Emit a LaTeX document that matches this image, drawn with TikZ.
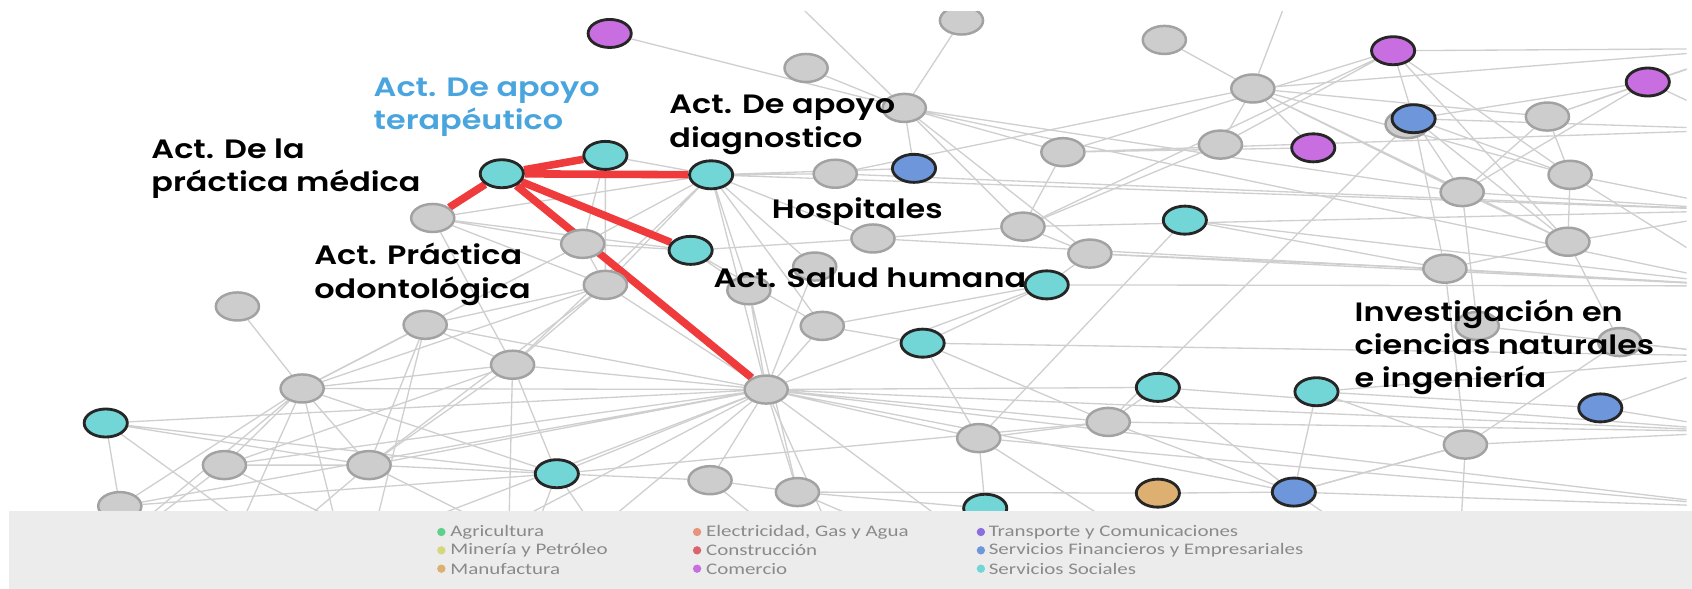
\documentclass[tikz,border=0pt]{standalone}
\usepackage{fontspec}
\usepackage{graphicx}
\usetikzlibrary{shapes.geometric}

\newfontfamily\lblfont{Poppins SemiBold}
\newfontfamily\legfont{Carlito}

\definecolor{nodegray}{HTML}{CDCDCD}
\definecolor{nodeedge}{HTML}{A2A2A2}
\definecolor{linkgray}{HTML}{CFCFCF}
\definecolor{hotred}{HTML}{EF3B3B}
\definecolor{social}{HTML}{73D6D6}
\definecolor{trade}{HTML}{C86EE0}
\definecolor{finance}{HTML}{6E97DB}
\definecolor{manuf}{HTML}{DDAF70}
\definecolor{labelblue}{HTML}{4AA5DF}
\definecolor{bandgray}{HTML}{ECECEC}
\definecolor{legtext}{HTML}{8A8A8A}
\definecolor{agri}{HTML}{5FCF8C}
\definecolor{mining}{HTML}{D6D67C}
\definecolor{power}{HTML}{E8937C}
\definecolor{build}{HTML}{D9646E}
\definecolor{transport}{HTML}{8C6FDD}

\pgfdeclarelayer{edges}
\pgfdeclarelayer{front}
\pgfsetlayers{edges,main,front}

\newcommand{\wide}[1]{\scalebox{1.2}[1]{#1}}
\newcommand{\legwide}[1]{\scalebox{1.3}[1]{#1}}

\begin{document}
\begin{tikzpicture}[x=0.02cm, y=-0.02cm,
  net/.style={ellipse, minimum width=0.8cm, minimum height=0.52cm, inner sep=0pt},
  gnode/.style={net, draw=nodeedge, line width=1.3pt, fill=nodegray},
  cnode/.style={net, draw=black!85, line width=1.5pt, fill=#1},
  link/.style={draw=linkgray, line width=0.7pt},
  hot/.style={draw=hotred, line width=4pt},
  lbl/.style={anchor=north west, align=left, inner sep=0pt, font=\lblfont\fontsize{14}{17.6}\selectfont},
  key/.style={circle, fill=#1, minimum size=0.155cm, inner sep=0pt},
  keytext/.style={anchor=west, inner sep=0pt, text=legtext, font=\legfont\fontsize{8.5}{10}\selectfont}]

\useasboundingbox (0,0) rectangle (1568,545);

% off-canvas ends
\coordinate (eT1) at (715,-20);
\coordinate (eT2) at (1200,-20);
\coordinate (eR1) at (1620,45);
\coordinate (eR2) at (1620,120);
\coordinate (eR3) at (1620,195);
\coordinate (eR4) at (1620,265);
\coordinate (eR5) at (1620,330);
\coordinate (eR6) at (1620,400);
\coordinate (eR7) at (1620,470);
\coordinate (eB1) at (40,560);
\coordinate (eB2) at (190,560);
\coordinate (eB3) at (330,560);
\coordinate (eB4) at (470,560);
\coordinate (eB5) at (600,560);
\coordinate (eB6) at (800,560);
\coordinate (eB7) at (980,560);
\coordinate (eB8) at (1150,560);
\coordinate (eB9) at (1350,560);

\begin{scope}
\clip (0,11) rectangle (1563,545);
% gray nodes
\node[gnode] (g1) at (891,19) {};
\node[gnode] (g2) at (1079,37) {};
\node[gnode] (g3) at (747,63) {};
\node[gnode] (g4) at (838,100) {};
\node[gnode] (g5) at (1161,82) {};
\node[gnode] (g6) at (1131,134) {};
\node[gnode] (g7) at (985,141) {};
\node[gnode] (g8) at (1434,108) {};
\node[gnode] (g9) at (774,161) {};
\node[gnode] (g10) at (1355,178) {};
\node[gnode] (g11) at (1455,162) {};
\node[gnode] (g12) at (401,202) {};
\node[gnode] (g13) at (540,226) {};
\node[gnode] (g14) at (809,221) {};
\node[gnode] (g15) at (948,210) {};
\node[gnode] (g16) at (1010,235) {};
\node[gnode] (g17) at (561,264) {};
\node[gnode] (g18) at (694,269) {};
\node[gnode] (g19) at (755,247) {};
\node[gnode] (g20) at (1339,249) {};
\node[gnode] (g21) at (1453,224) {};
\node[gnode] (g22) at (1369,302) {};
\node[gnode] (g23) at (1501,317) {};
\node[gnode] (g24) at (220,284) {};
\node[gnode] (g25) at (394,301) {};
\node[gnode] (g26) at (475,338) {};
\node[gnode] (g27) at (280,360) {};
\node[gnode] (g28) at (762,302) {};
\node[gnode] (hub) at (710,361) {};
\node[gnode] (g29) at (1027,391) {};
\node[gnode] (g30) at (907,406) {};
\node[gnode] (g31) at (1358,412) {};
\node[gnode] (g32) at (208,431) {};
\node[gnode] (g33) at (342,431) {};
\node[gnode] (g34) at (658,445) {};
\node[gnode] (g35) at (739,456) {};
\node[gnode] (g36) at (111,469) {};
\node[gnode] (gBB) at (1304,115) {};

% coloured nodes
\node[cnode=trade] (pA) at (565,31) {};
\node[cnode=trade] (pB) at (1291,47) {};
\node[cnode=trade] (pC) at (1527,76) {};
\node[cnode=trade] (pD) at (1217,137) {};
\node[cnode=finance] (bA) at (847,156) {};
\node[cnode=finance] (bB) at (1310,110) {};
\node[cnode=finance] (bC) at (1483,378) {};
\node[cnode=finance] (bD) at (1199,456) {};
\node[cnode=manuf] (oA) at (1073,457) {};
\node[cnode=social] (tMed) at (465,161) {};
\node[cnode=social] (tTer) at (561,144) {};
\node[cnode=social] (tDiag) at (659,162) {};
\node[cnode=social] (tSal) at (640,232) {};
\node[cnode=social] (tHum) at (970,264) {};
\node[cnode=social] (tA) at (1098,204) {};
\node[cnode=social] (tB) at (855,318) {};
\node[cnode=social] (tC) at (1073,359) {};
\node[cnode=social] (tD) at (1220,363) {};
\node[cnode=social] (tE) at (98,392) {};
\node[cnode=social] (tF) at (516,439) {};
\node[cnode=social] (tG) at (913,471) {};
\end{scope}

\begin{pgfonlayer}{edges}
\begin{scope}
\clip (0,11) rectangle (1563,545);
% upper part
\draw[link] (pA) -- (g4) (eT1) -- (g4) (g1) -- (g4) (g3) -- (g4) (g4) -- (bA) (g4) -- (g15) (g4) -- (g16) (g4) -- (eR4) (g4) -- (g7) (g4) -- (g10);
\draw[link] (g2) -- (g5) (eT2) -- (g5) (g5) -- (g6) (g5) -- (pD) (g5) -- (g9) (g5) -- (eR1) (g5) -- (g8) (g5) -- (g10) (g5) -- (g21) (g5) -- (g11);
\draw[link] (g6) -- (pB) (pB) -- (bB) (pB) -- (eR1) (pB) -- (g11) (pB) -- (g21) (pB) -- (g15) (pB) -- (g7);
\draw[link] (bB) -- (g20) (bB) -- (g10) (bB) -- (g11) (bB) -- (eR2) (bB) -- (pC) (bB) -- (g21) (bB) -- (g29);
\draw[link] (g8) -- (g11) (g8) -- (g10) (g8) -- (pC) (g8) -- (eR1) (g11) -- (g21) (g11) -- (eR3) (g11) -- (eR4);
\draw[link] (pC) -- (eR1) (pC) -- (eR2) (pC) -- (g10) (g10) -- (g21) (g10) -- (g22) (g10) -- (eR3);
\draw[link] (g20) -- (g31) (g20) -- (g21) (g20) -- (eR4) (g20) -- (tA) (g20) -- (g16) (g21) -- (eR3) (g21) -- (g23);
\draw[link] (g22) -- (eR5) (g23) -- (eR5) (bC) -- (eR5) (bC) -- (eR6) (bC) -- (tD) (g31) -- (eR6) (g31) -- (bD) (g31) -- (g23);
\draw[link] (g7) -- (g15) (g7) -- (eR2) (pD) -- (g7) (g6) -- (g15);
% middle part
\draw[link] (tTer) -- (tDiag) (tTer) -- (g13) (tTer) -- (g17);
\draw[link] (tDiag) -- (g9) (tDiag) -- (bA) (tDiag) -- (g14) (tDiag) -- (g13) (tDiag) -- (g17) (tDiag) -- (g18) (tDiag) -- (g28) (tDiag) -- (hub) (tDiag) -- (g12) (tDiag) -- (eR3) (tDiag) -- (g26) (tDiag) -- (g19);
\draw[link] (g12) -- (g13) (g12) -- (tSal) (g12) -- (g17) (g12) -- (g26);
\draw[link] (g13) -- (g17) (g13) -- (g25) (g13) -- (g27) (g13) -- (tSal) (g17) -- (g26) (g17) -- (g25) (g17) -- (g27) (g17) -- (g33) (g17) -- (hub);
\draw[link] (tSal) -- (g18) (tSal) -- (g14) (tSal) -- (g28) (g9) -- (eR3) (g14) -- (g15) (g14) -- (eR4) (g15) -- (g16) (g15) -- (eR3);
\draw[link] (g16) -- (tHum) (g16) -- (eR4) (tHum) -- (g28) (tHum) -- (hub) (tHum) -- (eR4) (g18) -- (hub) (g18) -- (g35) (g19) -- (hub);
\draw[link] (tA) -- (eR4) (tA) -- (g30) (g28) -- (hub) (g28) -- (tB) (tB) -- (g30) (tB) -- (eR5) (tB) -- (tHum) (tB) -- (g29);
\draw[link] (hub) -- (g27) (hub) -- (g32) (hub) -- (g33) (hub) -- (tE) (hub) -- (g26) (hub) -- (g25) (hub) -- (g36) (hub) -- (eB2) (hub) -- (eB3) (hub) -- (eB4);
\draw[link] (hub) -- (g34) (hub) -- (g35) (hub) -- (tF) (hub) -- (eB6) (hub) -- (eB7) (hub) -- (g30) (hub) -- (tC) (hub) -- (eR6) (hub) -- (g29) (hub) -- (bD) (hub) -- (eR7);
% left part
\draw[link] (g24) -- (g27) (g25) -- (g27) (g25) -- (g33) (g25) -- (g26) (g25) -- (eB3);
\draw[link] (g26) -- (tF) (g26) -- (g33) (g26) -- (g32) (g26) -- (eB4) (g26) -- (g27);
\draw[link] (g27) -- (g32) (g27) -- (g33) (g27) -- (g36) (g27) -- (eB2) (g27) -- (eB3) (g27) -- (tF) (g27) -- (eB1);
\draw[link] (tE) -- (g36) (tE) -- (g33) (tE) -- (eB3) (tE) -- (tF) (g32) -- (g33) (g32) -- (eB1) (g32) -- (eB4);
\draw[link] (g33) -- (tF) (g33) -- (eB2) (g33) -- (eB5) (tF) -- (g34) (tF) -- (eB5) (tF) -- (eB4) (tF) -- (g29);
\draw[link] (g34) -- (g35) (g34) -- (eB6) (g35) -- (eB7) (g35) -- (tG) (g36) -- (eB2) (g36) -- (tF);
% lower right
\draw[link] (tC) -- (g29) (tC) -- (bD) (tC) -- (eR6) (tD) -- (g31) (tD) -- (bD) (tD) -- (eR5);
\draw[link] (g29) -- (bD) (g29) -- (g30) (g29) -- (eR6) (g30) -- (tG) (g30) -- (eR7) (g30) -- (eB8);
\draw[link] (oA) -- (bD) (oA) -- (g35) (bD) -- (g31) (bD) -- (eB9) (bD) -- (eR7) (g31) -- (eB9);
% highlighted links
\draw[hot] (tMed) -- (tTer) (tMed) -- (tDiag) (tMed) -- (tSal) (tMed) -- (hub) (tMed) -- (g12);
\end{scope}
\end{pgfonlayer}

\begin{pgfonlayer}{front}
\node[lbl, text=labelblue] (terapeutico) at (346,72) {\wide{Act. De apoyo}\\\wide{terapéutico}};
\node[lbl] (medica) at (140,128) {\wide{Act. De la}\\\wide{práctica médica}};
\node[lbl] (odonto) at (291,225) {\wide{Act. Práctica}\\\wide{odontológica}};
\node[lbl] (diagnostico) at (620,88) {\wide{Act. De apoyo}\\\wide{diagnostico}};
\node[lbl] (hospitales) at (715,183) {\wide{Hospitales}};
\node[lbl] (salud) at (661,248) {\wide{Act. Salud humana}};
\node[lbl] (investigacion) at (1255,277) {\wide{Investigación en}\\\wide{ciencias naturales}\\\wide{e ingeniería}};

% legend
\fill[bandgray] (8,474) rectangle (1600,570);
\node[key=agri] (k1) at (409,493) {};
\node[keytext] (t1) at (417,493) {\legwide{Agricultura}};
\node[key=mining] (k2) at (409,510) {};
\node[keytext] (t2) at (417,510) {\legwide{Minería y Petróleo}};
\node[key=manuf] (k3) at (409,527) {};
\node[keytext] (t3) at (417,527) {\legwide{Manufactura}};
\node[key=power] (k4) at (646,493) {};
\node[keytext] (t4) at (654,493) {\legwide{Electricidad, Gas y Agua}};
\node[key=build] (k5) at (646,510) {};
\node[keytext] (t5) at (654,510) {\legwide{Construcción}};
\node[key=trade] (k6) at (646,527) {};
\node[keytext] (t6) at (654,527) {\legwide{Comercio}};
\node[key=transport] (k7) at (909,493) {};
\node[keytext] (t7) at (916,493) {\legwide{Transporte y Comunicaciones}};
\node[key=finance] (k8) at (909,510) {};
\node[keytext] (t8) at (916,510) {\legwide{Servicios Financieros y Empresariales}};
\node[key=social] (k9) at (909,527) {};
\node[keytext] (t9) at (916,527) {\legwide{Servicios Sociales}};
\end{pgfonlayer}
\end{tikzpicture}
\end{document}
